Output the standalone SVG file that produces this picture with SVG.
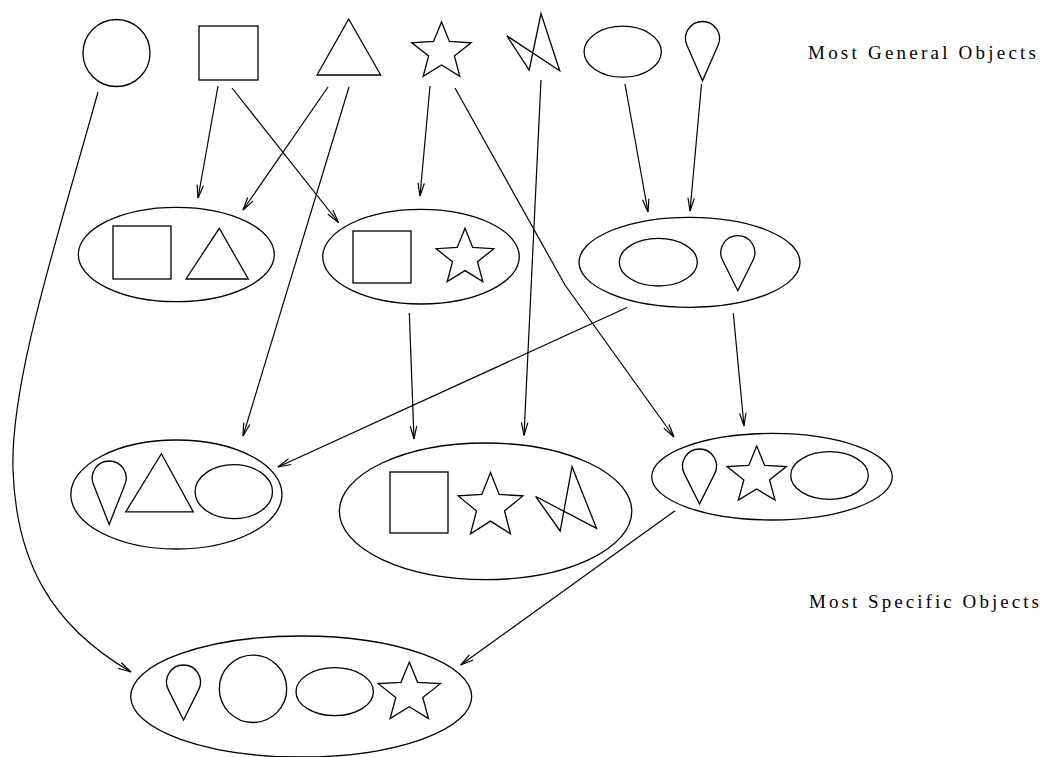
<svg xmlns="http://www.w3.org/2000/svg" xmlns:xlink="http://www.w3.org/1999/xlink" width="1043" height="757" viewBox="0 0 1043 757">
  <style>
    .s { fill: none; stroke: #000; stroke-width: 1.3; stroke-linejoin: miter; }
    .c { fill: none; stroke: #000; stroke-width: 1.2; marker-end: url(#arr); }
    .lbl { font-family: "Liberation Serif", "DejaVu Serif", serif; font-size: 19px; fill: #000; }
  </style>
  <defs>
    <!-- open V arrowhead -->
    <marker id="arr" markerUnits="userSpaceOnUse" markerWidth="20" markerHeight="20" viewBox="-16 -10 20 20" refX="0" refY="0" orient="auto" overflow="visible">
      <path d="M-13,-3.2 L0,0 L-13,3.2" fill="none" stroke="#000" stroke-width="1.2"/>
    </marker>
    <!-- five-pointed star, outer radius 30, inner radius 13 -->
    <path id="star" d="M0,-30 L7.64,-10.52 L28.53,-9.27 L12.36,4.02 L17.63,24.27 L0,13 L-17.63,24.27 L-12.36,4.02 L-28.53,-9.27 L-7.64,-10.52 Z" fill="none" stroke="#000" stroke-width="1.3" vector-effect="non-scaling-stroke"/>
  </defs>

  <rect width="1043" height="757" fill="#fff"/>

  <!-- top row: single objects -->
  <g id="circle">
    <circle class="s" cx="116.5" cy="53" r="33.5"/>
  </g>
  <g id="square">
    <rect class="s" x="199" y="26" width="59" height="54"/>
  </g>
  <g id="triangle">
    <polygon class="s" points="348.7,19 380.7,75 317,75"/>
  </g>
  <g id="star-top">
    <use xlink:href="#star" transform="translate(441.5,52) scale(1.04,1)"/>
  </g>
  <g id="zigzag">
    <polygon class="s" points="506.9,35.9 529.2,70 541,13.6 559.7,70.7"/>
  </g>
  <g id="ellipse">
    <ellipse class="s" cx="622.7" cy="51.7" rx="38.6" ry="25.5"/>
  </g>
  <g id="teardrop">
    <path class="s" d="M702.5,80.8 L686.93,45.33 A17,17 0 1,1 718.07,45.33 Z"/>
  </g>
  <text class="lbl" x="808" y="59" textLength="228" lengthAdjust="spacing">Most General Objects</text>

  <!-- second row -->
  <g id="square-triangle">
    <ellipse class="s" cx="176.3" cy="254.5" rx="98" ry="47.2"/>
    <rect class="s" x="113" y="226" width="58" height="53"/>
    <polygon class="s" points="219.3,228.3 248.3,279 186,279"/>
  </g>
  <g id="square-star">
    <ellipse class="s" cx="421" cy="256.7" rx="98.3" ry="47.3"/>
    <rect class="s" x="353" y="231" width="58" height="52"/>
    <use xlink:href="#star" transform="translate(465,257.8) scale(1.01,0.983)"/>
  </g>
  <g id="ellipse-teardrop">
    <ellipse class="s" cx="689.5" cy="262.3" rx="110.5" ry="45"/>
    <ellipse class="s" cx="658.3" cy="262.2" rx="39" ry="23.8"/>
    <path class="s" d="M737.8,290.7 L722.6,260.3 A17,17 0 1,1 753,260.3 Z"/>
  </g>

  <!-- third row -->
  <g id="teardrop-triangle-ellipse">
    <ellipse class="s" cx="176.4" cy="494.5" rx="105.6" ry="54.5"/>
    <path class="s" d="M109.2,524.5 L93.38,484.2 A17,17 0 1,1 125.02,484.2 Z"/>
    <polygon class="s" points="161.4,453.7 193.2,511.8 125.8,511.8"/>
    <ellipse class="s" cx="233.8" cy="491.7" rx="38.7" ry="27"/>
  </g>
  <g id="square-star-zigzag">
    <ellipse class="s" cx="485.6" cy="511.3" rx="146.2" ry="68.3"/>
    <rect class="s" x="390" y="472" width="58" height="61"/>
    <use xlink:href="#star" transform="translate(490.5,506.4) scale(1.133)"/>
    <polygon class="s" points="535.7,496.5 560.2,531 572,466.7 596.5,528.3"/>
  </g>
  <g id="teardrop-star-ellipse">
    <ellipse class="s" cx="772" cy="476.7" rx="120.3" ry="43.3"/>
    <path class="s" d="M699.5,504 L684.3,473.6 A17,17 0 1,1 714.7,473.6 Z"/>
    <use xlink:href="#star" transform="translate(756.7,475.9) scale(1.04,1)"/>
    <ellipse class="s" cx="829.5" cy="475.5" rx="38.8" ry="23.8"/>
  </g>

  <text class="lbl" x="809" y="608" textLength="230" lengthAdjust="spacing">Most Specific Objects</text>

  <!-- bottom: most specific -->
  <g id="teardrop-circle-ellipse-star">
    <ellipse class="s" cx="301.2" cy="696.5" rx="170.5" ry="60.5"/>
    <path class="s" d="M183.5,720 L168.3,689.6 A17,17 0 1,1 198.7,689.6 Z"/>
    <circle class="s" cx="253" cy="688.8" r="33.7"/>
    <ellipse class="s" cx="334.7" cy="691.7" rx="38.7" ry="24"/>
    <use xlink:href="#star" transform="translate(409.3,693.3) scale(1.09,1.04)"/>
  </g>

  <!-- connectors -->
  <g id="connectors">
    <path class="c" d="M98,92 C60,230 10,380 13,470 C16,560 50,625 131,672"/>
    <line class="c" x1="218" y1="86" x2="198" y2="198"/>
    <line class="c" x1="232" y1="88" x2="338.5" y2="222.5"/>
    <line class="c" x1="328" y1="87" x2="243" y2="210"/>
    <line class="c" x1="349" y1="87" x2="243" y2="436"/>
    <line class="c" x1="430" y1="86" x2="420" y2="196"/>
    <polyline class="c" points="455,88 565,285 674,437"/>
    <line class="c" x1="541" y1="80" x2="524" y2="435.5"/>
    <line class="c" x1="625" y1="84" x2="648" y2="212"/>
    <line class="c" x1="701.5" y1="84" x2="690" y2="211"/>
    <line class="c" x1="409.3" y1="313" x2="414" y2="439"/>
    <line class="c" x1="627" y1="307.5" x2="278" y2="467"/>
    <line class="c" x1="733.3" y1="313.3" x2="744" y2="426"/>
    <line class="c" x1="675" y1="510.7" x2="460.7" y2="665"/>
  </g>
</svg>
